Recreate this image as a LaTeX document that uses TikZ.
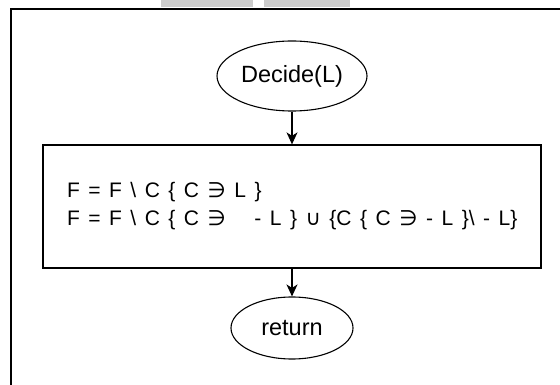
\documentclass[tikz,border=0pt]{standalone}
\usepackage{fontspec}
\setmainfont{Liberation Sans}
\newfontfamily\symfont{DejaVu Sans}
\usetikzlibrary{arrows.meta,shapes.geometric}
\newcommand\hasmem{{\symfont ∋}}
\newcommand\unionsym{{\symfont ∪}}
\newcommand\widespaces{\spaceskip=8.5pt plus 1pt\relax}
\hfuzz=100pt
\begin{document}
\begin{tikzpicture}[x=1pt,y=-1pt,
  terminal/.style={draw, ellipse, line width=1.1pt, inner sep=0pt,
    font=\fontsize{23.5}{27}\selectfont},
  process/.style={draw, rectangle, line width=1.3pt, align=left,
    text width=450pt, inner xsep=24pt, inner ysep=0pt,
    minimum height=123pt, font=\fontsize{21}{28}\selectfont},
  flow/.style={-{Stealth[length=12pt,width=11pt,inset=3.5pt]}, line width=1.2pt}]
  \useasboundingbox (0,0) rectangle (560,385);
  % tabs along the top edge
  \fill[black!20] (161,0) rectangle (253,7);
  \fill[black!20] (264,0) rectangle (350,7);
  % frame on the top and left
  \draw[line width=2pt] (11,385) -- (11,9) -- (561,9);
  % flowchart
  \node[terminal, minimum width=150pt, minimum height=70pt] (decide) at (292,76) {Decide(L)};
  \node[process] (update) at (292,206.5)
    {\mbox{\widespaces F = F \textbackslash{} C \{ C \hasmem{} L \}}\\
     \mbox{\widespaces F = F \textbackslash{} C \{ C \hasmem{}\hspace{20pt} - L \} \unionsym{} \{C \{ C \hasmem{} - L \}\textbackslash{} - L\}}};
  \node[terminal, minimum width=122pt, minimum height=62pt] (ret) at (292,328) {return};
  \draw[flow] (decide) -- (update);
  \draw[flow] (update) -- (ret);
\end{tikzpicture}
\end{document}
